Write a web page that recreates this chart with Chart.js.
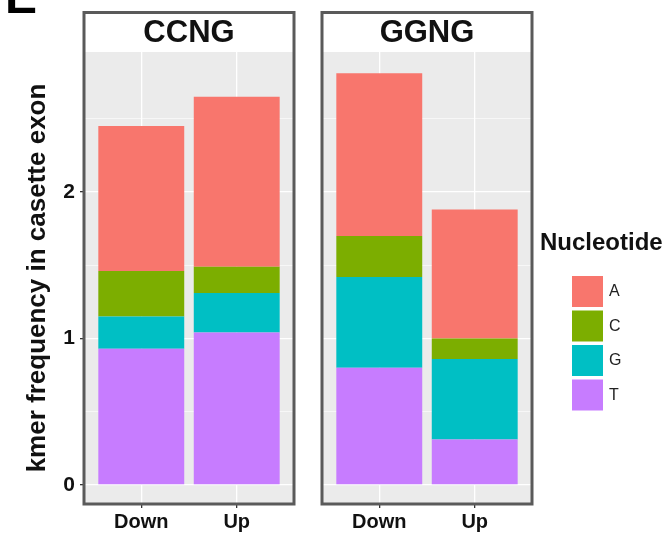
<!DOCTYPE html>
<html>
<head>
<meta charset="utf-8">
<script src="https://cdn.jsdelivr.net/npm/chart.js@4.4.1/dist/chart.umd.min.js"></script>
<style>
  html, body { margin: 0; padding: 0; background: #ffffff; }
  #wrap { position: relative; width: 671px; height: 536px; overflow: hidden; }
  #left { position: absolute; left: 0; top: 0; }
  #right { position: absolute; left: 300px; top: 0; }
</style>
</head>
<body>
<div id="wrap">
  <canvas id="left" width="300" height="536"></canvas>
  <canvas id="right" width="371" height="536"></canvas>
</div>
<script>
const groups = ['Down', 'Up'];
const nucleotides = ['A', 'C', 'G', 'T'];
const nucColors = ['#F8766D', '#7CAE00', '#00BFC4', '#C77CFF'];
const yTicks = [0, 0.5, 1, 1.5, 2, 2.5];

// CCNG panel, values per group (Down, Up)
const ccngA = [0.99, 1.16];
const ccngC = [0.31, 0.18];
const ccngG = [0.22, 0.27];
const ccngT = [0.93, 1.04];

// GGNG panel
const ggngA = [1.11, 0.88];
const ggngC = [0.28, 0.14];
const ggngG = [0.62, 0.55];
const ggngT = [0.80, 0.31];

const FONT = "'Liberation Sans', Arial, Helvetica, sans-serif";
Chart.defaults.font.family = FONT;
Chart.defaults.color = '#111';

function makeDatasets(a, c, g, t) {
    // bottom to top: T, G, C, A
    const byNuc = { A: a, C: c, G: g, T: t };
    return ['T', 'G', 'C', 'A'].map(n => ({
        label: n,
        stack: 'all',
        data: byNuc[n].map((v, i) => ({ x: i + 1, y: v })),
        backgroundColor: nucColors[nucleotides.indexOf(n)],
        borderWidth: 0,
        categoryPercentage: 1,
        barPercentage: 0.9
    }));
}

const panelFrame = {
    id: 'panelFrame',
    beforeDraw(chart) {
        const { ctx, chartArea: a } = chart;
        ctx.save();
        ctx.fillStyle = '#EBEBEB';
        ctx.fillRect(a.left, a.top, a.right - a.left, a.bottom - a.top);
        ctx.fillStyle = '#ffffff';
        ctx.fillRect(a.left, 12.5, a.right - a.left, a.top - 12.5);
        ctx.restore();
    },
    afterDraw(chart, args, opts) {
        const { ctx, chartArea: a } = chart;
        ctx.save();
        ctx.fillStyle = '#111';
        ctx.font = 'bold 31px ' + FONT;
        ctx.textAlign = 'center';
        ctx.textBaseline = 'middle';
        ctx.fillText(opts.strip, (a.left + a.right) / 2, 33);
        ctx.strokeStyle = '#5a5a5a';
        ctx.lineWidth = 3;
        ctx.strokeRect(a.left, 12.5, a.right - a.left, a.bottom - 12.5);
        if (opts.letter) {
            ctx.textAlign = 'left';
            ctx.textBaseline = 'alphabetic';
            ctx.fillStyle = '#000';
            ctx.font = 'bold 48px ' + FONT;
            ctx.fillText(opts.letter, 5, 13);
        }
        if (opts.legend) {
            ctx.textAlign = 'left';
            ctx.textBaseline = 'middle';
            ctx.fillStyle = '#111';
            ctx.font = 'bold 24px ' + FONT;
            ctx.fillText('Nucleotide', 240, 243);
            ctx.font = '16px ' + FONT;
            nucleotides.forEach((n, i) => {
                const y = 276 + i * 34.5;
                ctx.fillStyle = nucColors[i];
                ctx.fillRect(272, y, 31, 31);
                ctx.fillStyle = '#222';
                ctx.fillText(n, 309, y + 16);
            });
        }
        ctx.restore();
    }
};

function makeOptions(isLeft, strip) {
    return {
        responsive: false,
        animation: false,
        layout: {
            padding: isLeft ? { left: 0, right: 6, top: 52, bottom: 0 }
                            : { left: 0, right: 139, top: 52, bottom: 0 }
        },
        plugins: {
            legend: { display: false },
            tooltip: { enabled: false },
            panelFrame: { strip: strip, letter: isLeft ? 'E' : null, legend: !isLeft }
        },
        scales: {
            x: {
                type: 'linear',
                min: 0.4,
                max: 2.6,
                offset: false,
                stacked: true,
                afterBuildTicks: (scale) => { scale.ticks = groups.map((g, i) => ({ value: i + 1 })); },
                afterFit: (scale) => { scale.height = 32; },
                ticks: {
                    callback: (v) => groups[v - 1],
                    font: { size: 20, weight: 'bold' },
                    color: '#111',
                    padding: 2,
                    maxRotation: 0
                },
                grid: {
                    offset: false,
                    color: '#ffffff',
                    lineWidth: 1.3,
                    tickColor: '#333',
                    tickLength: 4
                },
                border: { display: false }
            },
            y: {
                min: -0.13,
                max: 2.955,
                stacked: true,
                afterBuildTicks: (scale) => { scale.ticks = yTicks.map(v => ({ value: v })); },
                afterFit: (scale) => { scale.width = isLeft ? 84 : 22; },
                title: {
                    display: isLeft,
                    text: 'kmer frequency in casette exon',
                    font: { size: 26, weight: 'bold' },
                    color: '#111',
                    padding: { top: 22, bottom: 0 }
                },
                ticks: {
                    display: isLeft,
                    callback: (v) => Number.isInteger(v) ? String(v) : '',
                    font: { size: 21, weight: 'bold' },
                    color: '#111',
                    padding: 5
                },
                grid: {
                    color: '#ffffff',
                    lineWidth: (ctx) => Number.isInteger(ctx.tick.value) ? 1.3 : 0.6,
                    drawTicks: isLeft,
                    tickColor: (ctx) => Number.isInteger(ctx.tick.value) ? '#333' : 'rgba(0,0,0,0)',
                    tickLength: 4
                },
                border: { display: false }
            }
        }
    };
}

new Chart(document.getElementById('left'), {
    type: 'bar',
    data: { datasets: makeDatasets(ccngA, ccngC, ccngG, ccngT) },
    options: makeOptions(true, 'CCNG'),
    plugins: [panelFrame]
});

new Chart(document.getElementById('right'), {
    type: 'bar',
    data: { datasets: makeDatasets(ggngA, ggngC, ggngG, ggngT) },
    options: makeOptions(false, 'GGNG'),
    plugins: [panelFrame]
});
</script>
</body>
</html>
